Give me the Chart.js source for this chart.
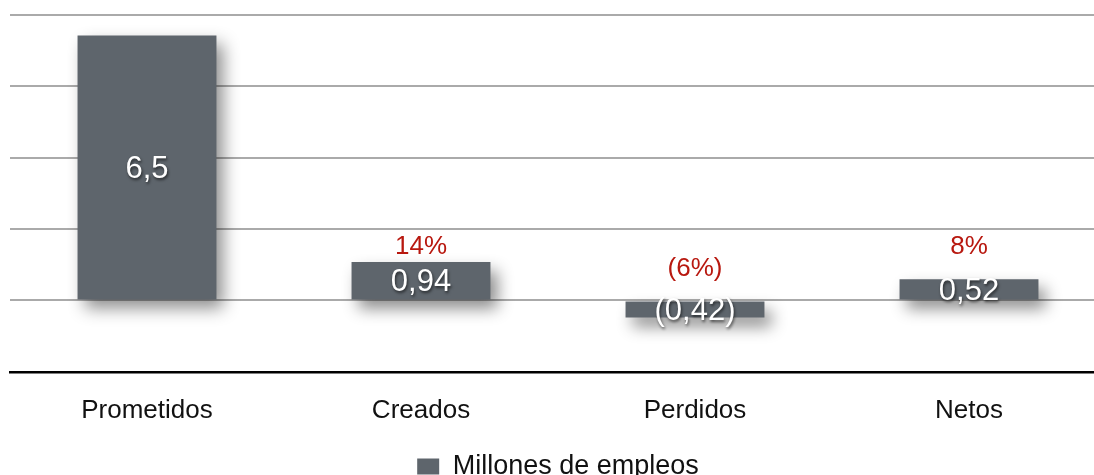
<!DOCTYPE html>
<html>
<head>
<meta charset="utf-8">
<script src="https://cdn.jsdelivr.net/npm/chart.js@4"></script>
<style>
    html, body { margin: 0; padding: 0; background: #fff; overflow: hidden; }
    #wrap { width: 1106px; height: 490px; }
</style>
</head>
<body>
<div id="wrap"><canvas id="empleosChart"></canvas></div>
<script>
// Datos del gráfico
const categorias = ['Prometidos', 'Creados', 'Perdidos', 'Netos'];
const millones = [6.5, 0.94, -0.42, 0.52];
const etiquetasValor = ['6,5', '0,94', '(0,42)', '0,52'];
const porcentajes = ['', '14%', '(6%)', '8%'];
const serieNombre = 'Millones de empleos';

const colorBarra = '#5e656c';
const fuente = '"Liberation Sans", Arial, Helvetica, sans-serif';

// Sombra de las barras
const sombraPlugin = {
    id: 'sombra',
    beforeDatasetsDraw(chart) {
        const ctx = chart.ctx;
        ctx.save();
        ctx.shadowColor = 'rgba(0, 0, 0, 0.45)';
        ctx.shadowBlur = 16;
        ctx.shadowOffsetX = 7;
        ctx.shadowOffsetY = 9;
    },
    afterDatasetsDraw(chart) {
        chart.ctx.restore();
    }
};

// Etiquetas de valor y porcentaje
const etiquetasPlugin = {
    id: 'etiquetas',
    afterDatasetsDraw(chart) {
        const ctx = chart.ctx;
        const meta = chart.getDatasetMeta(0);
        const y = chart.scales.y;
        const cero = y.getPixelForValue(0);
        ctx.save();
        ctx.textAlign = 'center';
        ctx.textBaseline = 'middle';
        meta.data.forEach((bar, i) => {
            // valor dentro de la barra
            ctx.font = '31px ' + fuente;
            ctx.fillStyle = '#ffffff';
            ctx.shadowColor = 'rgba(0, 0, 0, 0.6)';
            ctx.shadowBlur = 3;
            ctx.shadowOffsetX = 1;
            ctx.shadowOffsetY = 2;
            ctx.fillText(etiquetasValor[i], bar.x, (bar.y + bar.base) / 2 + 2);

            // porcentaje en rojo
            if (porcentajes[i]) {
                ctx.shadowColor = 'transparent';
                ctx.font = '26px ' + fuente;
                ctx.fillStyle = '#b8180f';
                const off = millones[i] < 0 ? 32 : 54;
                ctx.fillText(porcentajes[i], bar.x, cero - off);
            }
        });
        ctx.restore();
    }
};

const ctxEmpleos = document.getElementById('empleosChart').getContext('2d');

new Chart(ctxEmpleos, {
    type: 'bar',
    data: {
        labels: categorias,
        datasets: [{
            label: serieNombre,
            data: millones,
            backgroundColor: colorBarra,
            borderWidth: 0,
            categoryPercentage: 1,
            barPercentage: 0.507
        }]
    },
    options: {
        responsive: true,
        maintainAspectRatio: false,
        animation: false,
        layout: {
            padding: { left: 10, right: 0, top: 15, bottom: 0 }
        },
        plugins: {
            tooltip: { enabled: false },
            legend: {
                position: 'bottom',
                labels: {
                    color: '#111',
                    font: { size: 27, family: fuente },
                    boxWidth: 22,
                    boxHeight: 16,
                    padding: 12
                }
            }
        },
        scales: {
            x: {
                grid: { display: false },
                border: { display: true, color: '#000', width: 2.5 },
                ticks: {
                    color: '#111',
                    font: { size: 26, family: fuente },
                    padding: 15
                }
            },
            y: {
                min: -1.75,
                max: 7,
                grid: { color: '#aaaaaa', lineWidth: 2, drawTicks: false },
                border: { display: false },
                ticks: { display: false, stepSize: 1.75 }
            }
        }
    },
    plugins: [sombraPlugin, etiquetasPlugin]
});
</script>
</body>
</html>
